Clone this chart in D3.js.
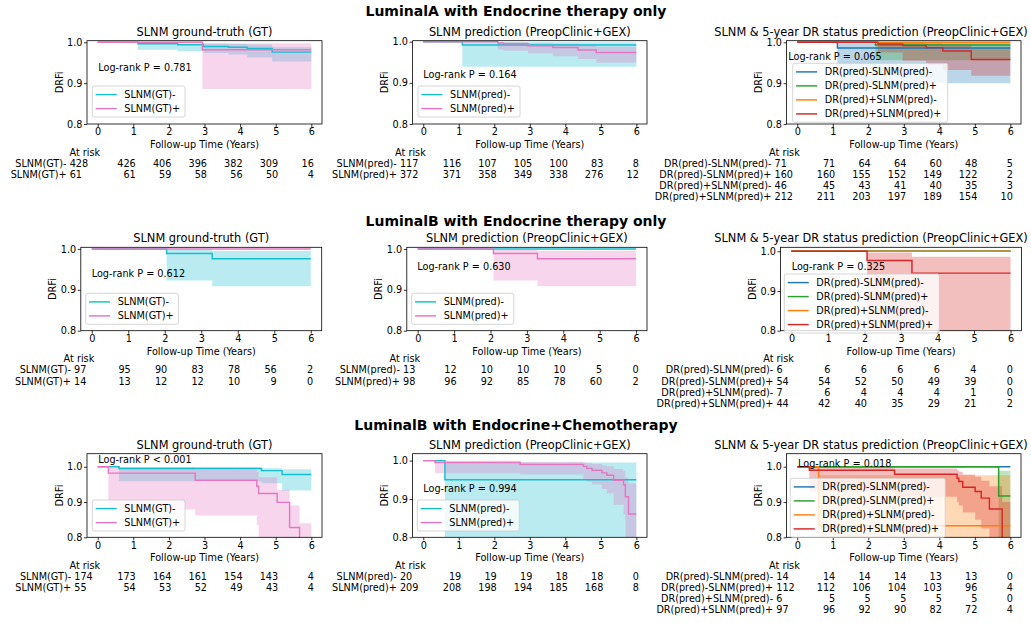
<!DOCTYPE html>
<html>
<head>
<meta charset="utf-8">
<script src="https://cdn.jsdelivr.net/npm/d3@7"></script>
<style>
  body { margin: 0; background: #fff; }
  svg text { font-family: "DejaVu Sans", sans-serif; fill: #000; }
</style>
</head>
<body>
<svg id="chart" width="1031" height="623"></svg>
<script>
// ---- data ----
const timeTicks = [0, 1, 2, 3, 4, 5, 6];
const survTicks = [0.8, 0.9, 1.0];
const groupTitles = ["LuminalA with Endocrine therapy only", "LuminalB with Endocrine therapy only", "LuminalB with Endocrine+Chemotherapy"];
const panelTitles = ["SLNM ground-truth (GT)", "SLNM prediction (PreopClinic+GEX)", "SLNM & 5-year DR status prediction (PreopClinic+GEX)"];
const gtNames = ["SLNM(GT)-", "SLNM(GT)+"];
const predNames = ["SLNM(pred)-", "SLNM(pred)+"];
const drNames = ["DR(pred)-SLNM(pred)-", "DR(pred)-SLNM(pred)+", "DR(pred)+SLNM(pred)-", "DR(pred)+SLNM(pred)+"];
const pValues = ["Log-rank P = 0.781", "Log-rank P = 0.164", "Log-rank P = 0.065",
  "Log-rank P = 0.612", "Log-rank P = 0.630", "Log-rank P = 0.325",
  "Log-rank P < 0.001", "Log-rank P = 0.994", "Log-rank P = 0.018"];

// KM curves: [time, survival, ci lower, ci upper]
const lumA_gtNeg = [[0,1,1,1],[1.13,0.9966,0.982,0.999],[2.25,0.994,0.978,0.998],[2.97,0.990,0.974,0.997],[3.67,0.988,0.970,0.996],[4.2,0.985,0.963,0.995],[4.9,0.976,0.953,0.988],[6,0.976,0.953,0.988]];
const lumA_gtPos = [[0,1,1,1],[2.94,0.982,0.886,0.998],[6,0.982,0.886,0.998]];
const lumA_predNeg = [[0,1,1,1],[1.1,0.992,0.939,0.999],[6,0.992,0.939,0.999]];
const lumA_predPos = [[0,1,1,1],[2.1,0.997,0.981,0.9995],[2.25,0.995,0.978,0.999],[2.95,0.990,0.972,0.997],[3.65,0.986,0.965,0.995],[4.36,0.980,0.958,0.992],[4.87,0.974,0.949,0.988],[6,0.974,0.949,0.988]];
const lumA_drNN = [[0,1,1,1],[1.13,0.986,0.900,0.998],[6,0.986,0.900,0.998]];
const lumA_drNP = [[0,1,1,1],[2.2,0.9937,0.956,0.999],[6,0.9937,0.956,0.999]];
const lumA_drPN = [[0,1,1,1],[6,1,1,1]];
const lumA_drPP = [[0,1,1,1],[2.27,0.996,0.975,0.9995],[2.97,0.992,0.955,0.999],[3.63,0.987,0.945,0.997],[4.1,0.979,0.932,0.994],[4.9,0.958,0.918,0.985],[6,0.958,0.918,0.985]];

const lumB_gtNeg = [[0,1,1,1],[2.05,0.989,0.923,0.998],[3.3,0.976,0.909,0.995],[6,0.976,0.909,0.995]];
const lumB_gtPos = [[0,1,1,1],[6,1,1,1]];
const lumB_predNeg = [[0,1,1,1],[6,1,1,1]];
const lumB_predPos = [[0,1,1,1],[2.08,0.989,0.923,0.998],[3.29,0.976,0.909,0.995],[6,0.976,0.909,0.995]];
const lumB_drNN = [[0,1,1,1],[6,1,1,1]];
const lumB_drNP = [[0,1,1,1],[6,1,1,1]];
const lumB_drPN = [[0,1,1,1],[6,1,1,1]];
const lumB_drPP = [[0,1,1,1],[2.07,0.977,0.75,0.997],[3.3,0.945,0.7,0.986],[6,0.945,0.7,0.986]];

const chemo_gtNeg = [[0,1,1,1],[0.6,0.995,0.959,0.9995],[4.6,0.989,0.953,0.996],[5.18,0.978,0.933,0.993],[6,0.978,0.933,0.993]];
const chemo_gtPos = [[0,1,1,1],[0.3,0.982,0.879,0.998],[2.74,0.962,0.862,0.992],[4.47,0.945,0.835,0.985],[4.52,0.924,0.78,0.97],[5.04,0.899,0.75,0.935],[5.39,0.828,0.65,0.89],[5.67,0.7,0.5,0.84],[6,0.7,0.5,0.84]];
const chemo_predNeg = [[0,1,1,1],[0.61,0.95,0.7,0.995],[6,0.95,0.7,0.995]];
const chemo_predPos = [[0,1,1,1],[0.33,0.995,0.967,0.9995],[2.73,0.990,0.964,0.997],[4.51,0.985,0.952,0.995],[4.6,0.98,0.945,0.993],[4.75,0.975,0.938,0.991],[5.03,0.968,0.926,0.988],[5.17,0.962,0.915,0.985],[5.36,0.949,0.885,0.978],[5.64,0.937,0.86,0.972],[5.69,0.906,0.80,0.955],[5.78,0.861,0.72,0.94],[6,0.861,0.72,0.94]];
const chemo_drNN = [[0,1,1,1],[6,1,1,1]];
const chemo_drNP = [[0,1,1,1],[5.67,0.917,0.6,0.989],[6,0.917,0.6,0.989]];
const chemo_drPN = [[0,1,1,1],[0.6,0.833,0.27,0.976],[6,0.833,0.27,0.976]];
const chemo_drPP = [[0,1,1,1],[0.34,0.99,0.93,0.999],[2.74,0.979,0.915,0.995],[4.5,0.967,0.9,0.99],[4.55,0.958,0.89,0.986],[4.66,0.942,0.87,0.978],[5.01,0.93,0.85,0.972],[5.18,0.911,0.825,0.96],[5.41,0.88,0.78,0.945],[5.77,0.7,0.5,0.9],[6,0.7,0.5,0.9]];

// numbers at risk at t = 0..6
const lumA_gtRisk = [[428,426,406,396,382,309,16],[61,61,59,58,56,50,4]];
const lumA_predRisk = [[117,116,107,105,100,83,8],[372,371,358,349,338,276,12]];
const lumA_drRisk = [[71,71,64,64,60,48,5],[160,160,155,152,149,122,2],[46,45,43,41,40,35,3],[212,211,203,197,189,154,10]];
const lumB_gtRisk = [[97,95,90,83,78,56,2],[14,13,12,12,10,9,0]];
const lumB_predRisk = [[13,12,10,10,10,5,0],[98,96,92,85,78,60,2]];
const lumB_drRisk = [[6,6,6,6,6,4,0],[54,54,52,50,49,39,0],[7,6,4,4,4,1,0],[44,42,40,35,29,21,2]];
const chemo_gtRisk = [[174,173,164,161,154,143,4],[55,54,53,52,49,43,4]];
const chemo_predRisk = [[20,19,19,19,18,18,0],[209,208,198,194,185,168,8]];
const chemo_drRisk = [[14,14,14,14,13,13,0],[112,112,106,104,103,96,4],[6,5,5,5,5,5,0],[97,96,92,90,82,72,4]];

// ---- layout ----
const pairColors = ["#17becf", "#e377c2"];
const quadColors = ["#1f77b4", "#2ca02c", "#ff7f0e", "#d62728"];
const colX = [[[87, 322], [412.6, 647], [786.6, 1021]],
  [[80.8, 321.7], [406.8, 647], [780.5, 1021.5]],
  [[87, 322], [412.6, 647], [786.6, 1021]]];
const rowY = [[40.7, 124], [247.3, 330.7], [453.7, 537.3]];
const yTops = [[1.004, 1.0025, 1.004], [1.004, 1.004, 1.01], [1.037, 1.018, 1.037]];
const groupY = [16, 225.7, 430];
const pPos = [[98.3, 71.3], [423.3, 78.3], [788.3, 60], [91.7, 276.7], [417.3, 270], [791.7, 270], [98.3, 463.3], [423.3, 491.7], [798, 466.7]];
const legPos = [[92.3, 86], [418, 86], [792.7, 63.3], [85.7, 293.3], [411.7, 293.3], [784.3, 274], [92.3, 500], [417.3, 500], [790.3, 478.3]];
const riskShift = [-28, -23.3, -22.7, -17.7, -14.7, -15, -23.4, -23.3, -21];

const curveSets = [
  [[lumA_gtNeg, lumA_gtPos], [lumA_predNeg, lumA_predPos], [lumA_drNN, lumA_drNP, lumA_drPN, lumA_drPP]],
  [[lumB_gtNeg, lumB_gtPos], [lumB_predNeg, lumB_predPos], [lumB_drNN, lumB_drNP, lumB_drPN, lumB_drPP]],
  [[chemo_gtNeg, chemo_gtPos], [chemo_predNeg, chemo_predPos], [chemo_drNN, chemo_drNP, chemo_drPN, chemo_drPP]]
];
const riskSets = [
  [lumA_gtRisk, lumA_predRisk, lumA_drRisk],
  [lumB_gtRisk, lumB_predRisk, lumB_drRisk],
  [chemo_gtRisk, chemo_predRisk, chemo_drRisk]
];
const nameSets = [gtNames, predNames, drNames];
const legWidth = [92.7, 102, 155];

const FS = 9.7;
const svg = d3.select("#chart");
svg.append("rect").attr("width", 1031).attr("height", 623).attr("fill", "#fff");

groupTitles.forEach((t, r) => {
  svg.append("text")
    .attr("x", 516).attr("y", groupY[r])
    .attr("text-anchor", "middle")
    .style("font-size", "14px").style("font-weight", "bold")
    .text(t);
});

function drawPanel(r, c) {
  const k = r * 3 + c;
  const [x0, x1] = colX[r][c];
  const [y0, y1] = rowY[r];
  const curves = curveSets[r][c];
  const names = nameSets[c];
  const colors = c === 2 ? quadColors : pairColors;
  const risk = riskSets[r][c];

  const x = d3.scaleLinear().domain([-0.3, 6.3]).range([x0, x1]);
  const y = d3.scaleLinear().domain([0.8, yTops[r][c]]).range([y1, y0]);

  const g = svg.append("g");
  svg.append("clipPath").attr("id", "clip" + k)
    .append("rect").attr("x", x0).attr("y", y0).attr("width", x1 - x0).attr("height", y1 - y0);
  const plot = g.append("g").attr("clip-path", `url(#clip${k})`);

  const area = d3.area().curve(d3.curveStepAfter)
    .x(d => x(d[0])).y0(d => y(d[2])).y1(d => y(d[3]));
  const line = d3.line().curve(d3.curveStepAfter)
    .x(d => x(d[0])).y(d => y(d[1]));

  plot.selectAll("path.ci").data(curves).join("path")
    .attr("class", "ci")
    .attr("d", area)
    .attr("fill", (d, i) => colors[i])
    .attr("fill-opacity", 0.3);
  plot.selectAll("path.km").data(curves).join("path")
    .attr("class", "km")
    .attr("d", line)
    .attr("fill", "none")
    .attr("stroke", (d, i) => colors[i])
    .attr("stroke-width", 1.45);

  // axes
  const xAxis = d3.axisBottom(x).tickValues(timeTicks).tickSize(3).tickPadding(1.6).tickFormat(d3.format("d"));
  const yAxis = d3.axisLeft(y).tickValues(survTicks).tickSize(3).tickPadding(1.6).tickFormat(d3.format(".1f"));
  const gx = g.append("g").attr("transform", `translate(0,${y1})`).call(xAxis);
  const gy = g.append("g").attr("transform", `translate(${x0},0)`).call(yAxis);
  [gx, gy].forEach(a => {
    a.select(".domain").remove();
    a.selectAll("line").attr("stroke", "#000").attr("stroke-width", 0.8);
    a.selectAll("text").style("font-size", FS + "px").attr("fill", "#000");
  });

  g.append("rect")
    .attr("x", x0).attr("y", y0).attr("width", x1 - x0).attr("height", y1 - y0)
    .attr("fill", "none").attr("stroke", "#000").attr("stroke-width", 0.8);

  // titles and labels
  g.append("text")
    .attr("x", c === 2 ? 871 : (x0 + x1) / 2).attr("y", y0 - 5)
    .attr("text-anchor", "middle").style("font-size", "11.4px")
    .text(panelTitles[c]);
  g.append("text")
    .attr("x", (x0 + x1) / 2).attr("y", y1 + 23.8)
    .attr("text-anchor", "middle").style("font-size", FS + "px")
    .text("Follow-up Time (Years)");
  g.append("text")
    .attr("transform", `translate(${x0 - 24.5},${(y0 + y1) / 2}) rotate(-90)`)
    .attr("text-anchor", "middle").style("font-size", FS + "px")
    .text("DRFi");

  g.append("text")
    .attr("x", pPos[k][0]).attr("y", pPos[k][1])
    .style("font-size", FS + "px")
    .text(pValues[k]);

  // legend
  const [lx, ly] = legPos[k];
  const n = names.length;
  const leg = g.append("g").attr("transform", `translate(${lx},${ly})`);
  leg.append("rect")
    .attr("width", legWidth[c]).attr("height", 17 + (n - 1) * 14)
    .attr("rx", 2)
    .attr("fill", "#fff").attr("fill-opacity", 0.8)
    .attr("stroke", "#cccccc").attr("stroke-width", 0.8);
  names.forEach((nm, i) => {
    const yy = 8.6 + i * 14;
    leg.append("line")
      .attr("x1", 3.4).attr("x2", 24.4).attr("y1", yy).attr("y2", yy)
      .attr("stroke", colors[i]).attr("stroke-width", 1.45);
    leg.append("text")
      .attr("x", 32).attr("y", yy + 3.5)
      .style("font-size", FS + "px")
      .text(nm);
  });

  // at-risk table
  const zx = x(0);
  g.append("text")
    .attr("x", zx + 2.5).attr("y", y1 + 31.5)
    .attr("text-anchor", "end").style("font-size", FS + "px")
    .text("At risk");
  risk.forEach((row, i) => {
    const yy = y1 + 42.7 + i * 11.1;
    const cl = zx + riskShift[k];
    g.append("text")
      .attr("x", cl - 3.1).attr("y", yy)
      .attr("text-anchor", "end").style("font-size", FS + "px")
      .text(names[i]);
    g.append("text")
      .attr("x", cl).attr("y", yy)
      .style("font-size", FS + "px")
      .text(row[0]);
    row.slice(1).forEach((v, j) => {
      g.append("text")
        .attr("x", x(timeTicks[j + 1]) + 2.5).attr("y", yy)
        .attr("text-anchor", "end").style("font-size", FS + "px")
        .text(v);
    });
  });
}

for (let r = 0; r < 3; r++) {
  for (let c = 0; c < 3; c++) drawPanel(r, c);
}
</script>
</body>
</html>
